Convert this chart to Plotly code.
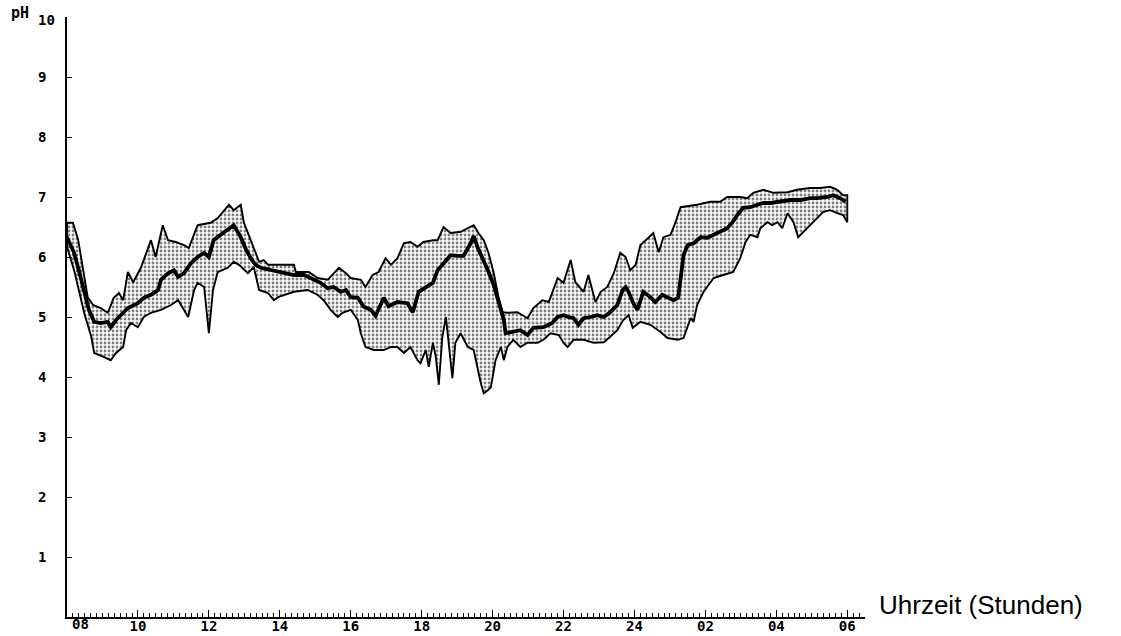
import plotly.graph_objects as go

# pH-Verlauf über 22 Stunden (08:00 bis 06:00 des Folgetages).
# Zeiten in Minuten nach 08:00, Werte in pH-Einheiten.

upper_min = [0, 10, 19, 27, 35, 44, 57, 69, 79, 88, 95, 103, 112, 125, 142, 150, 162, 171, 184, 198,
             206, 221, 243, 255, 274, 282, 294, 299, 306, 316, 325, 333, 340, 384, 387, 409, 424, 441,
             460, 472, 480, 497, 505, 517, 527, 539, 548, 559, 570, 581, 593, 603, 619, 627, 637, 649,
             666, 688, 696, 705, 713, 722, 730, 737, 745, 762, 779, 789, 804, 815, 830, 840, 852, 860,
             874, 882, 894, 903, 914, 925, 936, 945, 953, 962, 970, 979, 992, 1001, 1009, 1021, 1029,
             1038, 1066, 1088, 1105, 1117, 1139, 1151, 1161, 1178, 1195, 1219, 1235, 1257, 1274, 1291,
             1303, 1313, 1320]
upper_ph = [6.57, 6.57, 6.28, 5.83, 5.33, 5.20, 5.15, 5.07, 5.32, 5.40, 5.28, 5.75, 5.58, 5.82, 6.28,
            6.00, 6.53, 6.28, 6.25, 6.20, 6.15, 6.53, 6.57, 6.65, 6.87, 6.78, 6.87, 6.58, 6.40, 6.15,
            5.92, 5.95, 5.87, 5.87, 5.75, 5.75, 5.65, 5.62, 5.82, 5.73, 5.65, 5.62, 5.50, 5.70, 5.75,
            5.98, 5.87, 5.98, 6.23, 6.25, 6.17, 6.25, 6.28, 6.28, 6.50, 6.40, 6.42, 6.53, 6.40, 6.28,
            6.07, 5.73, 5.33, 5.08, 5.07, 5.08, 4.98, 5.15, 5.28, 5.25, 5.65, 5.57, 5.95, 5.58, 5.42,
            5.70, 5.25, 5.42, 5.50, 5.73, 6.07, 6.00, 5.78, 5.87, 6.20, 6.28, 6.40, 6.08, 6.33, 6.37,
            6.57, 6.83, 6.87, 6.92, 6.92, 7.00, 7.00, 6.98, 7.07, 7.12, 7.07, 7.08, 7.12, 7.15, 7.15,
            7.17, 7.12, 7.03, 7.03]

lower_min = [0, 12, 20, 29, 41, 46, 63, 74, 83, 95, 100, 108, 120, 130, 142, 159, 176, 188, 198, 205,
             215, 221, 232, 237, 240, 247, 255, 272, 282, 291, 306, 316, 325, 340, 350, 357, 367, 384,
             407, 424, 434, 446, 458, 466, 480, 492, 497, 505, 519, 536, 548, 559, 570, 581, 593, 598,
             607, 612, 619, 624, 629, 635, 641, 646, 652, 657, 666, 678, 688, 700, 705, 712, 717, 725,
             734, 739, 745, 755, 767, 779, 796, 806, 818, 832, 840, 847, 857, 874, 891, 908, 919, 931,
             941, 950, 957, 970, 987, 1004, 1016, 1033, 1043, 1055, 1060, 1066, 1077, 1094, 1110, 1127,
             1139, 1148, 1156, 1168, 1173, 1185, 1193, 1202, 1210, 1219, 1229, 1237, 1246, 1257, 1271,
             1279, 1291, 1303, 1313, 1320]
lower_ph = [6.17, 5.78, 5.45, 5.07, 4.67, 4.40, 4.33, 4.28, 4.40, 4.50, 4.78, 4.90, 4.83, 5.00, 5.07,
            5.12, 5.20, 5.28, 5.12, 5.00, 5.45, 5.57, 5.50, 5.03, 4.73, 5.45, 5.75, 5.82, 5.92, 5.87,
            5.73, 5.83, 5.45, 5.40, 5.28, 5.33, 5.37, 5.42, 5.45, 5.37, 5.28, 5.12, 5.00, 5.07, 5.12,
            4.95, 4.73, 4.50, 4.45, 4.45, 4.50, 4.50, 4.40, 4.50, 4.28, 4.23, 4.45, 4.17, 4.57, 4.33,
            3.87, 4.67, 5.00, 4.53, 3.98, 4.57, 4.73, 4.50, 4.45, 3.90, 3.73, 3.78, 3.83, 4.28, 4.50,
            4.28, 4.50, 4.62, 4.50, 4.57, 4.57, 4.62, 4.73, 4.70, 4.57, 4.50, 4.62, 4.62, 4.57, 4.58,
            4.67, 4.78, 4.95, 5.03, 4.82, 4.92, 4.87, 4.75, 4.65, 4.62, 4.65, 4.98, 4.92, 5.20, 5.42,
            5.65, 5.70, 5.75, 5.98, 6.25, 6.37, 6.33, 6.48, 6.58, 6.53, 6.58, 6.48, 6.73, 6.58, 6.33,
            6.42, 6.53, 6.67, 6.75, 6.78, 6.73, 6.70, 6.58]

median_min = [0, 12, 20, 29, 37, 46, 57, 69, 74, 83, 91, 103, 120, 130, 142, 154, 159, 171, 181, 188,
              198, 210, 221, 232, 240, 248, 260, 272, 282, 294, 303, 311, 319, 328, 345, 367, 384, 401,
              417, 429, 441, 451, 463, 472, 480, 492, 502, 514, 522, 531, 536, 544, 559, 576, 585, 595,
              607, 619, 627, 637, 649, 661, 671, 683, 688, 695, 703, 712, 722, 730, 739, 742, 754, 767,
              779, 789, 806, 821, 830, 840, 848, 857, 865, 874, 886, 897, 908, 919, 931, 940, 945, 950,
              958, 965, 975, 987, 995, 1007, 1017, 1026, 1034, 1038, 1043, 1050, 1060, 1072, 1083, 1094,
              1105, 1117, 1126, 1134, 1144, 1156, 1168, 1178, 1190, 1207, 1224, 1241, 1257, 1269, 1286,
              1296, 1308, 1317]
median_ph = [6.33, 6.07, 5.78, 5.45, 5.12, 4.92, 4.90, 4.92, 4.83, 4.95, 5.03, 5.15, 5.23, 5.32, 5.37,
             5.45, 5.62, 5.73, 5.78, 5.67, 5.73, 5.90, 6.00, 6.07, 6.00, 6.28, 6.37, 6.45, 6.53, 6.33,
             6.12, 5.98, 5.87, 5.82, 5.78, 5.73, 5.70, 5.70, 5.62, 5.57, 5.48, 5.50, 5.42, 5.45, 5.33,
             5.32, 5.17, 5.12, 5.02, 5.23, 5.32, 5.18, 5.25, 5.23, 5.08, 5.42, 5.50, 5.57, 5.78, 5.90,
             6.03, 6.02, 6.02, 6.23, 6.35, 6.15, 5.98, 5.78, 5.53, 5.28, 4.95, 4.73, 4.75, 4.78, 4.70,
             4.82, 4.83, 4.90, 5.00, 5.03, 5.00, 4.98, 4.87, 4.98, 5.00, 5.03, 5.00, 5.08, 5.20, 5.45,
             5.50, 5.42, 5.23, 5.12, 5.42, 5.33, 5.25, 5.37, 5.32, 5.28, 5.32, 5.70, 6.03, 6.20, 6.23,
             6.33, 6.32, 6.37, 6.42, 6.48, 6.58, 6.70, 6.82, 6.83, 6.87, 6.90, 6.90, 6.92, 6.95, 6.95,
             6.98, 6.98, 7.00, 7.03, 6.98, 6.92]

hour_ticks = [8, 10, 12, 14, 16, 18, 20, 22, 24, 26, 28, 30]
hour_labels = ["", "10", "12", "14", "16", "18", "20", "22", "24", "02", "04", "06"]
ph_ticks = [1, 2, 3, 4, 5, 6, 7, 8, 9, 10]
ph_labels = ["1", "2", "3", "4", "5", "6", "7", "8", "9", ""]

START_HOUR = 8


def to_hours(minutes):
    return [START_HOUR + m / 60 for m in minutes]


upper_h = to_hours(upper_min)
lower_h = to_hours(lower_min)
median_h = to_hours(median_min)

# Streubereich als geschlossenes Polygon: oberer Rand vorwärts, unterer Rand rückwärts
band_x = upper_h + lower_h[::-1] + [upper_h[0]]
band_y = upper_ph + lower_ph[::-1] + [upper_ph[0]]

PLOT_FONT = "DejaVu Sans Mono"
TICK_FONT = dict(family=PLOT_FONT, size=14, color="black", weight="bold")

fig = go.Figure()
fig.add_trace(go.Scatter(
    x=band_x, y=band_y,
    mode="lines",
    fill="toself",
    fillcolor="white",
    fillpattern=dict(shape=".", fgcolor="black", bgcolor="white", size=4, solidity=0.4),
    line=dict(color="black", width=1.9),
    hoverinfo="skip",
    showlegend=False,
))
fig.add_trace(go.Scatter(
    x=median_h, y=median_ph,
    mode="lines",
    line=dict(color="black", width=3.8),
    showlegend=False,
))

L, R, T, B = 67, 256, 17, 19
W, H = 1121, 636
pw, ph = W - L - R, H - T - B


def px(x):
    return (x - L) / pw


def py(y):
    return (H - B - y) / ph


fig.update_layout(
    width=W, height=H,
    margin=dict(l=L, r=R, t=T, b=B, autoexpand=False),
    paper_bgcolor="white",
    plot_bgcolor="white",
    showlegend=False,
    xaxis=dict(
        range=[8, 30.5],
        showgrid=False, zeroline=False,
        showline=True, linecolor="black", linewidth=1.6,
        tickmode="array", tickvals=hour_ticks, ticktext=hour_labels,
        ticks="inside", ticklen=7, tickwidth=1.3, tickcolor="black",
        minor=dict(tick0=8, dtick=1 / 6, ticks="inside", ticklen=4, tickwidth=1.1, tickcolor="black"),
        tickfont=TICK_FONT,
        ticklabelstandoff=-5,
    ),
    yaxis=dict(
        range=[0, 10],
        showgrid=False, zeroline=False,
        showline=True, linecolor="black", linewidth=1.6,
        tickmode="array", tickvals=ph_ticks, ticktext=ph_labels,
        ticks="inside", ticklen=5, tickwidth=1.3, tickcolor="black",
        tickfont=TICK_FONT,
        ticklabelstandoff=16,
    ),
    annotations=[
        dict(text="pH", xref="paper", yref="paper", x=px(9), y=py(13), xanchor="left", yanchor="middle",
             showarrow=False, font=dict(family=PLOT_FONT, size=15, color="black", weight="bold")),
        dict(text="10", xref="paper", yref="paper", x=px(36), y=py(20), xanchor="left", yanchor="middle",
             showarrow=False, font=TICK_FONT),
        dict(text="08", xref="paper", yref="paper", x=px(80), y=py(624), xanchor="center", yanchor="middle",
             showarrow=False, font=TICK_FONT),
        dict(text="Uhrzeit (Stunden)", xref="paper", yref="paper", x=px(877), y=py(605),
             xanchor="left", yanchor="middle", showarrow=False,
             font=dict(family="Liberation Sans", size=26, color="black")),
    ],
)

fig.write_html("out.html")
